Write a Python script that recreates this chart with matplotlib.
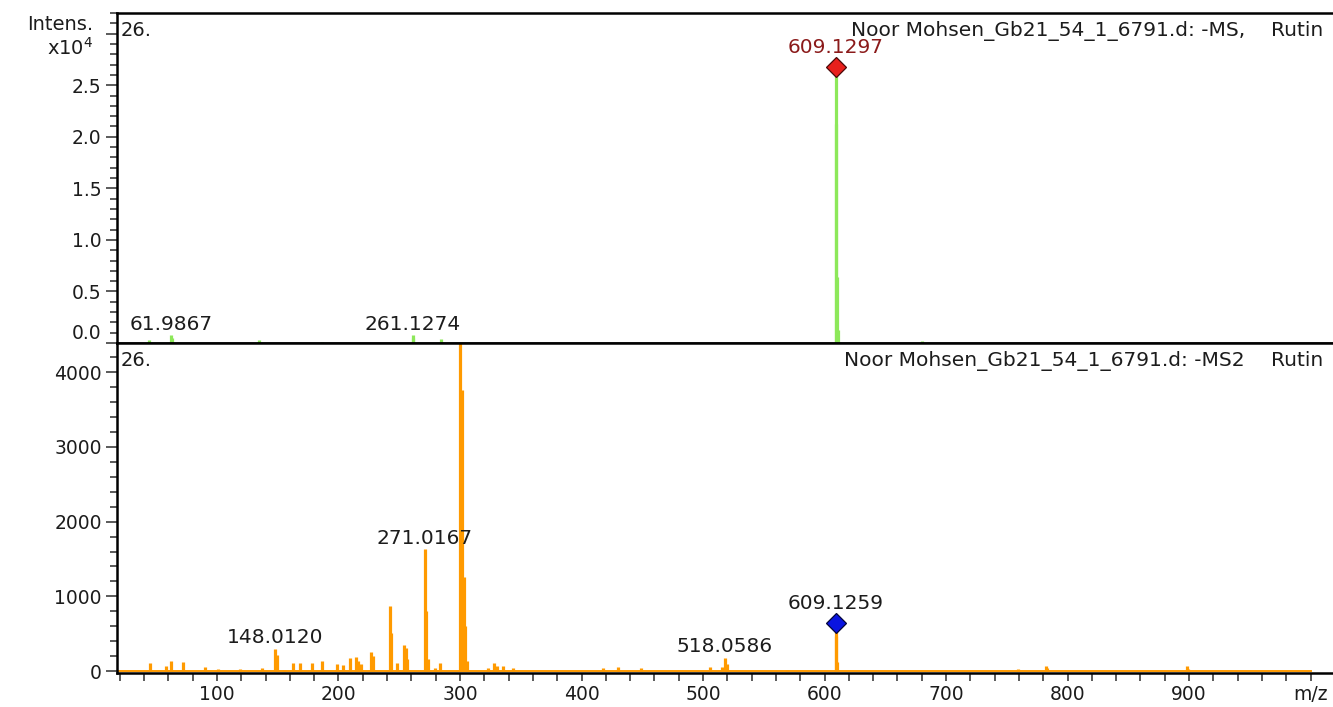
import matplotlib
matplotlib.use("Agg")
import numpy as np
import matplotlib.pyplot as plt
from matplotlib.ticker import MultipleLocator, FixedLocator, FuncFormatter

# ----------------------------------------
#  Spectrum data
# ----------------------------------------
# MS1 scan (-MS), intensities in counts
MS1_MZ = [44.0, 61.99, 62.6, 134.6, 186.4, 261.13, 261.7, 284.4,
          609.13, 609.6, 610.5, 611.5, 680.0]
MS1_INTENS = [320, 750, 500, 300, 100, 750, 500, 400,
              26800, 21200, 6400, 1300, 200]

# MS2 scan (-MS2), intensities in counts
MS2_MZ = [44.9, 58.0, 62.1, 72.0, 90.1, 100.8, 118.9, 137.0,
          148.01, 149.0, 155.0, 162.6, 168.3, 178.2, 186.4, 198.8, 203.7,
          209.5, 214.4, 216.3, 218.3, 226.7, 228.1,
          242.4, 243.6, 248.4, 253.9, 255.4, 256.6,
          271.02, 271.9, 273.9, 279.4, 283.5,
          300.03, 301.4, 303.0, 304.2, 305.5,
          323.3, 327.6, 330.2, 335.5, 343.8,
          417.7, 430.0, 449.0, 505.8, 515.6, 518.06, 519.7, 569.0,
          609.13, 609.7, 610.4, 759.0, 782.0, 783.0, 898.0, 899.0]
MS2_INTENS = [111, 67, 142, 120, 53, 27, 27, 40,
              298, 220, 20, 107, 107, 107, 133, 93, 80,
              178, 191, 133, 100, 258, 200,
              876, 511, 111, 347, 311, 156,
              1631, 809, 156, 40, 111,
              4450, 3764, 1253, 600, 133,
              40, 111, 70, 67, 40,
              40, 53, 40, 53, 53, 178, 93, 17,
              640, 470, 120, 29, 75, 40, 75, 35]
MS2_SCAN_RANGE = [15, 1000]

# Labelled peaks
MS1_LABEL_MZ = [61.9867, 261.1274]
MS2_LABEL_MZ = [148.0120, 271.0167, 518.0586]
MS1_PRECURSOR = 609.1297
MS2_PRECURSOR = 609.1259

HEADER_MS1 = "Noor Mohsen_Gb21_54_1_6791.d: -MS,"
HEADER_MS2 = "Noor Mohsen_Gb21_54_1_6791.d: -MS2"
COMPOUND = "Rutin"
SCAN_NO = "26."

# ----------------------------------------
#  Styling
# ----------------------------------------
W, H = 1333, 707
GREEN = "#8de85a"
ORANGE = "#ff9a00"
TXT = "#1c1c1c"
TICK = "#5a5a5a"
XLIM = (17.7, 1018.5)
PEAK_LW = 2.3

plt.rcParams["font.family"] = ["DejaVu Sans"]


def peak_height(mz_list, int_list, target, tol=1.0):
    mz = np.asarray(mz_list)
    it = np.asarray(int_list, dtype=float)
    sel = np.abs(mz - target) <= tol
    return it[sel].max()


fig = plt.figure(figsize=(W / 100, H / 100), dpi=100)
left = 117 / W
width = 1 - left
ax1 = fig.add_axes([left, (H - 343) / H, width, 330 / H])
ax2 = fig.add_axes([left, (H - 673) / H, width, 330 / H], sharex=ax1)

for ax in (ax1, ax2):
    ax.spines["right"].set_visible(False)
    for s in ("left", "top", "bottom"):
        ax.spines[s].set_linewidth(1.8)
        ax.spines[s].set_color("black")
    ax.tick_params(axis="y", which="major", direction="out", length=8,
                   width=1.4, color=TICK, labelsize=13.5, labelcolor=TXT, pad=3)
    ax.tick_params(axis="y", which="minor", direction="out", length=5,
                   width=1.4, color=TICK)

# ---- top panel: MS1 ----
ms1_scaled = np.asarray(MS1_INTENS) / 1e4
ax1.vlines(MS1_MZ, 0, ms1_scaled, colors=GREEN, lw=PEAK_LW)
ax1.set_xlim(*XLIM)
ax1.set_ylim(0, 3.2)
ax1.yaxis.set_major_locator(FixedLocator([0, 0.5, 1.0, 1.5, 2.0, 2.5, 3.0]))
ax1.yaxis.set_major_formatter(FuncFormatter(lambda v, p: "" if v > 2.9 else f"{v:.1f}"))
ax1.yaxis.set_minor_locator(MultipleLocator(0.1))
ax1.tick_params(axis="x", which="both", bottom=False, labelbottom=False)
ax1.yaxis.get_major_ticks()[0].label1.set_verticalalignment("bottom")

for mz in MS1_LABEL_MZ:
    h = peak_height(MS1_MZ, MS1_INTENS, mz) / 1e4
    ax1.annotate(f"{mz:.4f}", xy=(mz, h), xytext=(0, 4), textcoords="offset points",
                 ha="center", va="baseline", fontsize=14.5, color=TXT)

h = peak_height(MS1_MZ, MS1_INTENS, MS1_PRECURSOR) / 1e4
ax1.plot(MS1_PRECURSOR, h, marker="D", ms=10.5, mfc="#e8201c", mec="#4a0808",
         mew=0.9, zorder=5, clip_on=False)
ax1.annotate(f"{MS1_PRECURSOR:.4f}", xy=(MS1_PRECURSOR, h), xytext=(0, 10),
             textcoords="offset points", ha="center", va="baseline",
             fontsize=14.5, color="#8b1a1a")

# ---- bottom panel: MS2 ----
ax2.plot(MS2_SCAN_RANGE, [0, 0], color=ORANGE, lw=1.4)
ax2.vlines(MS2_MZ, 0, MS2_INTENS, colors=ORANGE, lw=PEAK_LW)
ax2.set_ylim(-25, 4390)
ax2.yaxis.set_major_locator(MultipleLocator(1000))
ax2.yaxis.set_major_formatter(FuncFormatter(lambda v, p: f"{v:.0f}"))
ax2.yaxis.set_minor_locator(MultipleLocator(200))


def mz_label(v, pos):
    v = int(round(v))
    if v == 1000:
        return "m/z"
    if v % 100 == 0 and 100 <= v <= 900:
        return str(v)
    return ""


ax2.xaxis.set_major_locator(MultipleLocator(20))
ax2.xaxis.set_major_formatter(FuncFormatter(mz_label))
ax2.tick_params(axis="x", which="major", direction="out", length=6, width=1.4,
                color=TICK, labelsize=13.5, labelcolor=TXT, pad=3)

for mz in MS2_LABEL_MZ:
    h = peak_height(MS2_MZ, MS2_INTENS, mz)
    ax2.annotate(f"{mz:.4f}", xy=(mz, h), xytext=(0, 4), textcoords="offset points",
                 ha="center", va="baseline", fontsize=14.5, color=TXT)

h = peak_height(MS2_MZ, MS2_INTENS, MS2_PRECURSOR)
ax2.plot(MS2_PRECURSOR, h, marker="D", ms=10.5, mfc="#0a14e0", mec="#04063a",
         mew=0.9, zorder=5, clip_on=False)
ax2.annotate(f"{MS2_PRECURSOR:.4f}", xy=(MS2_PRECURSOR, h), xytext=(0, 10),
             textcoords="offset points", ha="center", va="baseline",
             fontsize=14.5, color=TXT)

# ---- header texts ----
for ax, header in ((ax1, HEADER_MS1), (ax2, HEADER_MS2)):
    ax.text(0.003, 0.93, SCAN_NO, transform=ax.transAxes, ha="left",
            va="baseline", fontsize=14, color=TXT)
    ax.text((1245 - 117) / (W - 117), 0.93, header, transform=ax.transAxes,
            ha="right", va="baseline", fontsize=14.5, color=TXT)
    ax.text((1271 - 117) / (W - 117), 0.93, COMPOUND, transform=ax.transAxes,
            ha="left", va="baseline", fontsize=14.5, color=TXT)

fig.text(93 / W, 1 - 25 / H, "Intens.", ha="right", va="center",
         fontsize=14, color=TXT)
fig.text(93 / W, 1 - 48 / H, r"x10$^4$", ha="right", va="center",
         fontsize=14, color=TXT)

fig.savefig("out.png", dpi=100, facecolor="white")
